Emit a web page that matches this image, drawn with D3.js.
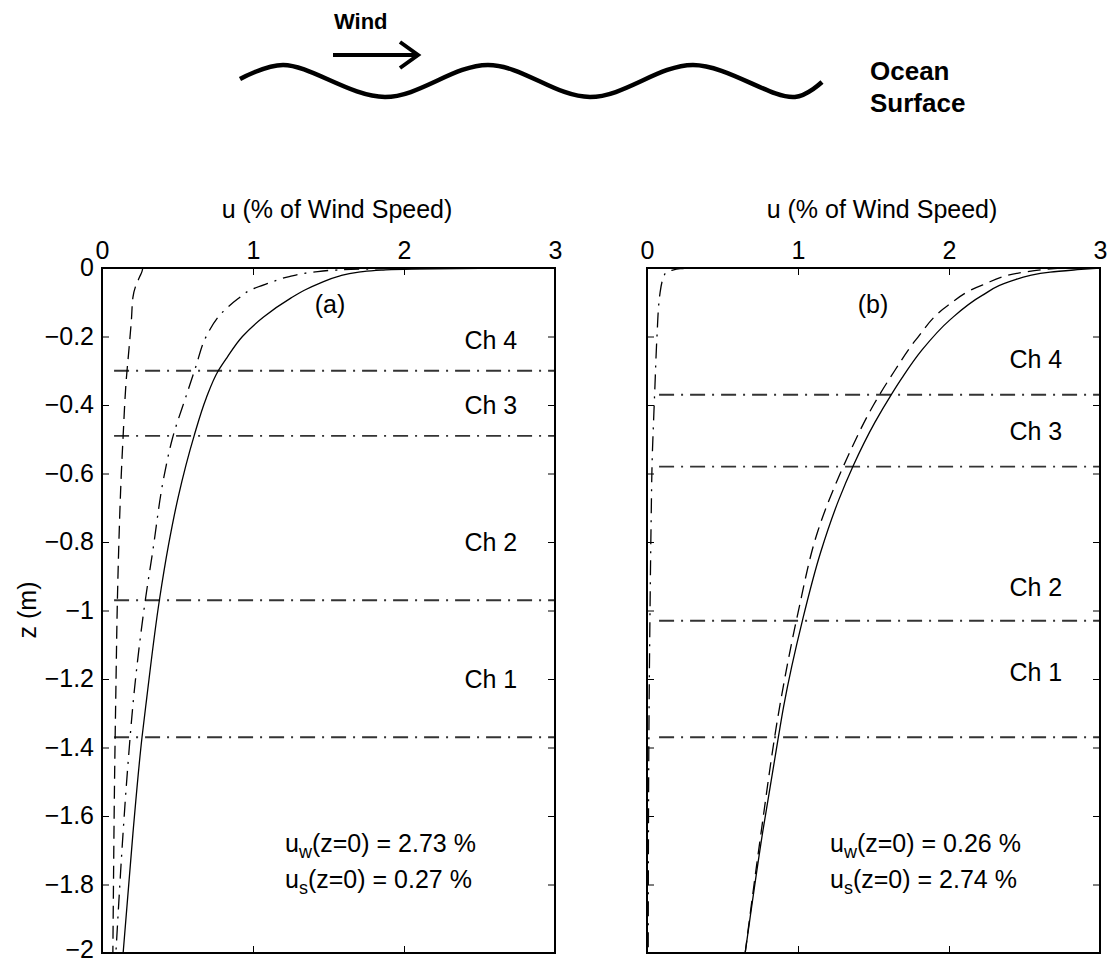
<!DOCTYPE html>
<html>
<head>
<meta charset="utf-8">
<script src="https://cdn.jsdelivr.net/npm/d3@7"></script>
<style>
  html, body { margin: 0; padding: 0; background: #fff; }
  svg { display: block; font-family: "Liberation Sans", Arial, Helvetica, sans-serif; }
</style>
</head>
<body>
<svg id="chart" width="1114" height="964"></svg>
<script>
// Axis ticks
const uTicks = [0, 1, 2, 3];
const zTicks = [0, -0.2, -0.4, -0.6, -0.8, -1, -1.2, -1.4, -1.6, -1.8, -2];

// Panel (a): wind-dominated surface current
const zTotalA = [0, -0.001, -0.003, -0.006, -0.012, -0.025, -0.045, -0.065, -0.088, -0.143, -0.2, -0.26, -0.3, -0.38, -0.49, -0.668, -0.81, -0.97, -1.26, -1.37, -1.65, -2.0];
const uTotalA = [3.0, 2.5, 2.05, 1.85, 1.70, 1.56, 1.44, 1.34, 1.25, 1.07, 0.93, 0.83, 0.77, 0.69, 0.61, 0.505, 0.44, 0.38, 0.295, 0.265, 0.205, 0.14];
const zWindA = [0, -0.001, -0.003, -0.006, -0.012, -0.025, -0.045, -0.065, -0.09, -0.128, -0.2, -0.29, -0.37, -0.5, -0.61, -0.83, -0.96, -1.23, -1.46, -1.68, -1.9, -2.0];
const uWindA = [2.73, 2.2, 1.75, 1.55, 1.40, 1.24, 1.10, 0.98, 0.90, 0.80, 0.69, 0.62, 0.56, 0.465, 0.41, 0.335, 0.29, 0.215, 0.17, 0.135, 0.105, 0.092];
const zStokesA = [0, -0.01, -0.025, -0.05, -0.085, -0.15, -0.23, -0.33, -0.49, -0.61, -0.83, -0.97, -1.23, -1.5, -1.8, -2.0];
const uStokesA = [0.27, 0.265, 0.25, 0.225, 0.205, 0.195, 0.18, 0.16, 0.14, 0.127, 0.11, 0.102, 0.092, 0.083, 0.076, 0.072];
const chDepthA = [-0.30, -0.49, -0.97, -1.37];
const chLabelDepthA = [-0.21, -0.40, -0.80, -1.20];

// Panel (b): Stokes-drift-dominated surface current
const zTotalB = [0, -0.005, -0.012, -0.04, -0.08, -0.15, -0.24, -0.32, -0.368, -0.45, -0.578, -0.677, -0.83, -1.028, -1.28, -1.37, -1.65, -2.0];
const uTotalB = [3.0, 2.85, 2.67, 2.40, 2.22, 2.01, 1.82, 1.69, 1.62, 1.51, 1.365, 1.27, 1.15, 1.03, 0.905, 0.87, 0.765, 0.65];
const zStokesB = [0, -0.005, -0.012, -0.05, -0.11, -0.21, -0.3, -0.4, -0.56, -0.77, -1.007, -1.29, -1.65, -2.0];
const uStokesB = [2.74, 2.62, 2.50, 2.22, 1.99, 1.78, 1.64, 1.50, 1.32, 1.13, 1.0, 0.875, 0.755, 0.65];
const zWindB = [0, -0.002, -0.006, -0.016, -0.074, -0.2, -0.34, -0.43, -0.55, -0.75, -1.0, -1.4, -2.0];
const uWindB = [0.26, 0.22, 0.17, 0.12, 0.086, 0.066, 0.053, 0.045, 0.035, 0.027, 0.02, 0.012, 0.008];
const chDepthB = [-0.37, -0.58, -1.03, -1.37];
const chLabelDepthB = [-0.266, -0.476, -0.93, -1.18];

const chNames = ["Ch 4", "Ch 3", "Ch 2", "Ch 1"];
const surfWindA = "2.73", surfStokesA = "0.27";
const surfWindB = "0.26", surfStokesB = "2.74";

const svg = d3.select("#chart");
svg.append("rect").attr("width", 1114).attr("height", 964).attr("fill", "#fff");

const FONT = 25;
const y = d3.scaleLinear().domain([0, -2]).range([268, 953]);

function drawPanel(x0, x1, p) {
  const x = d3.scaleLinear().domain([0, 3]).range([x0, x1]);
  const g = svg.append("g");
  const [yTop, yBot] = y.range();

  // channel depth markers
  g.selectAll("line.ch").data(p.chDepth).join("line")
    .attr("x1", x(0.08)).attr("x2", x(3))
    .attr("y1", d => y(d)).attr("y2", d => y(d))
    .attr("stroke", "#333").attr("stroke-width", 1.9)
    .attr("stroke-dasharray", "15,7,2,7");

  const line = (zs) => d3.line()
    .x(d => x(d))
    .y((d, i) => y(zs[i]))
    .curve(d3.curveMonotoneY);

  // total current (solid)
  g.append("path").datum(p.uTotal).attr("d", line(p.zTotal))
    .attr("fill", "none").attr("stroke", "#000").attr("stroke-width", 1.3);
  // wind-driven part (dash-dot)
  g.append("path").datum(p.uWind).attr("d", line(p.zWind))
    .attr("fill", "none").attr("stroke", "#000").attr("stroke-width", 1.3)
    .attr("stroke-dasharray", "15,7,2,7");
  // Stokes drift (dashed)
  g.append("path").datum(p.uStokes).attr("d", line(p.zStokes))
    .attr("fill", "none").attr("stroke", "#000").attr("stroke-width", 1.3)
    .attr("stroke-dasharray", "13,7");

  // axes: labelled top/left, mirrored ticks bottom/right
  const axTop = g.append("g").attr("transform", `translate(0,${yTop})`)
    .call(d3.axisTop(x).tickValues(uTicks).tickFormat(d3.format("d")).tickSizeInner(-7).tickSizeOuter(0).tickPadding(9));
  const axBot = g.append("g").attr("transform", `translate(0,${yBot})`)
    .call(d3.axisBottom(x).tickValues(uTicks).tickFormat("").tickSizeInner(-7).tickSizeOuter(0));
  const axLeft = g.append("g").attr("transform", `translate(${x0},0)`)
    .call(d3.axisLeft(y).tickValues(zTicks).tickFormat(p.yLabels ? (d => d3.format("")(d).replace("-", "\u2212")) : "").tickSizeInner(-7).tickSizeOuter(0).tickPadding(8));
  const axRight = g.append("g").attr("transform", `translate(${x1},0)`)
    .call(d3.axisRight(y).tickValues(zTicks).tickFormat("").tickSizeInner(-7).tickSizeOuter(0));
  [axTop, axBot, axLeft, axRight].forEach(a => {
    a.select(".domain").remove();
    a.selectAll(".tick line").attr("stroke", "#000").attr("stroke-width", 1);
    a.selectAll(".tick text").attr("font-size", FONT).attr("font-family", "Liberation Sans, Arial, sans-serif").attr("fill", "#000");
  });
  axTop.selectAll(".tick text").attr("dy", "0em");
  // keep the deepest label inside the page
  axLeft.selectAll(".tick text").attr("dy", d => d === -2 ? "0.16em" : "0.3em");

  // frame
  g.append("rect").attr("x", x0).attr("y", yTop).attr("width", x1 - x0).attr("height", yBot - yTop)
    .attr("fill", "none").attr("stroke", "#000").attr("stroke-width", 2);

  // x-axis title
  g.append("text").attr("x", x0 + 235).attr("y", 218).attr("text-anchor", "middle")
    .attr("font-size", FONT).text("u (% of Wind Speed)");

  // panel tag
  g.append("text").attr("x", p.tagX).attr("y", 313).attr("text-anchor", "middle")
    .attr("font-size", FONT).text(p.tag);

  // channel labels
  g.selectAll("text.ch").data(chNames).join("text")
    .attr("x", x(2.40)).attr("y", (d, i) => y(p.chLabelDepth[i]))
    .attr("dy", "0.36em").attr("font-size", FONT).text(d => d);

  // surface values
  const tx = x0 + 183;
  const t1 = g.append("text").attr("x", tx).attr("y", 852).attr("font-size", FONT);
  t1.append("tspan").text("u");
  t1.append("tspan").attr("font-size", 18).attr("dy", 6).text("w");
  t1.append("tspan").attr("dy", -6).text(`(z=0) = ${p.surfWind} %`);
  const t2 = g.append("text").attr("x", tx).attr("y", 888).attr("font-size", FONT);
  t2.append("tspan").text("u");
  t2.append("tspan").attr("font-size", 18).attr("dy", 6).text("s");
  t2.append("tspan").attr("dy", -6).text(`(z=0) = ${p.surfStokes} %`);
}

drawPanel(102, 555, {
  zTotal: zTotalA, uTotal: uTotalA, zWind: zWindA, uWind: uWindA, zStokes: zStokesA, uStokes: uStokesA,
  chDepth: chDepthA, chLabelDepth: chLabelDepthA, yLabels: true, tag: "(a)", tagX: 330,
  surfWind: surfWindA, surfStokes: surfStokesA
});
drawPanel(647, 1100, {
  zTotal: zTotalB, uTotal: uTotalB, zWind: zWindB, uWind: uWindB, zStokes: zStokesB, uStokes: uStokesB,
  chDepth: chDepthB, chLabelDepth: chLabelDepthB, yLabels: false, tag: "(b)", tagX: 873,
  surfWind: surfWindB, surfStokes: surfStokesB
});

// depth axis title
svg.append("text").attr("transform", "translate(36,610) rotate(-90)")
  .attr("text-anchor", "middle").attr("font-size", FONT).text("z (m)");

// surface sketch: wind arrow over a wavy sea surface
const sketch = svg.append("g");
sketch.append("text").attr("x", 334).attr("y", 29).attr("font-size", 22).attr("font-weight", "bold").text("Wind");
sketch.append("line").attr("x1", 333).attr("x2", 416).attr("y1", 55).attr("y2", 55)
  .attr("stroke", "#000").attr("stroke-width", 4);
sketch.append("path").attr("d", "M400,42 L418,55 L400,68")
  .attr("fill", "none").attr("stroke", "#000").attr("stroke-width", 4);
const wavePts = [[240, 79], [283, 65], [385, 97], [488, 65], [590, 97], [693, 65], [795, 97], [822, 82]];
sketch.append("path").datum(wavePts)
  .attr("d", d3.line().curve(d3.curveCatmullRom.alpha(0.5)))
  .attr("fill", "none").attr("stroke", "#000").attr("stroke-width", 4.5);
sketch.append("text").attr("x", 870).attr("y", 80).attr("font-size", 26).attr("font-weight", "bold").text("Ocean");
sketch.append("text").attr("x", 870).attr("y", 112).attr("font-size", 26).attr("font-weight", "bold").text("Surface");
</script>
</body>
</html>
